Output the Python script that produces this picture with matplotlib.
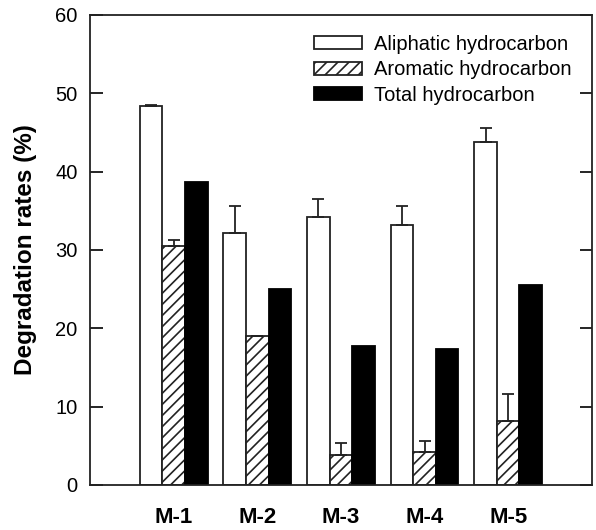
import matplotlib.pyplot as plt
import numpy as np

plt.rcParams['font.family'] = ['Liberation Sans', 'DejaVu Sans']
plt.rcParams['hatch.linewidth'] = 1.2

samples = ['M-1', 'M-2', 'M-3', 'M-4', 'M-5']
aliphatic = [48.4, 32.1, 34.2, 33.2, 43.8]
aliphatic_err = [0.1, 3.5, 2.3, 2.4, 1.7]
aromatic = [30.5, 19.0, 3.8, 4.2, 8.2]
aromatic_err = [0.7, 0.0, 1.5, 1.4, 3.4]
total = [38.7, 25.0, 17.7, 17.4, 25.5]

x = np.arange(1, len(samples) + 1)
w = 0.27

fig = plt.figure(figsize=(5.96, 5.30), dpi=100)
ax = fig.add_axes([0.151, 0.085, 0.842, 0.887])

ekw = dict(ecolor='#222222', elinewidth=1.3, capsize=4.3, capthick=1.3)
ax.bar(x - w, aliphatic, w, color='white', edgecolor='#222222', linewidth=1.3,
       yerr=[np.zeros(5), aliphatic_err], error_kw=ekw, label='Aliphatic hydrocarbon')
ax.bar(x, aromatic, w, color='white', edgecolor='#222222', linewidth=1.3, hatch='///',
       yerr=[np.zeros(5), aromatic_err], error_kw=ekw, label='Aromatic hydrocarbon')
ax.bar(x + w, total, w, color='black', edgecolor='black', linewidth=1.3,
       label='Total hydrocarbon')

ax.set_xlim(0, 6)
ax.set_ylim(0, 60)
ax.set_yticks(range(0, 61, 10))
ax.set_xticks(x)
ax.set_xticklabels(samples, fontsize=16, fontweight='bold')
ax.tick_params(axis='x', length=0, pad=16)
ax.tick_params(axis='y', direction='in', length=9, width=1.2, labelsize=14.5,
               right=True, pad=9)
for s in ax.spines.values():
    s.set_linewidth(1.3)
    s.set_color('#222222')

ax.set_ylabel('Degradation rates (%)', fontsize=17.5, fontweight='bold')
ax.yaxis.set_label_coords(-0.105, 0.5)

ax.legend(loc='upper right', bbox_to_anchor=(0.975, 0.975), frameon=False, fontsize=14.5,
          handlelength=2.35, handleheight=0.6, handletextpad=0.6, labelspacing=0.33,
          borderaxespad=0)

fig.savefig('out.png', dpi=100)
